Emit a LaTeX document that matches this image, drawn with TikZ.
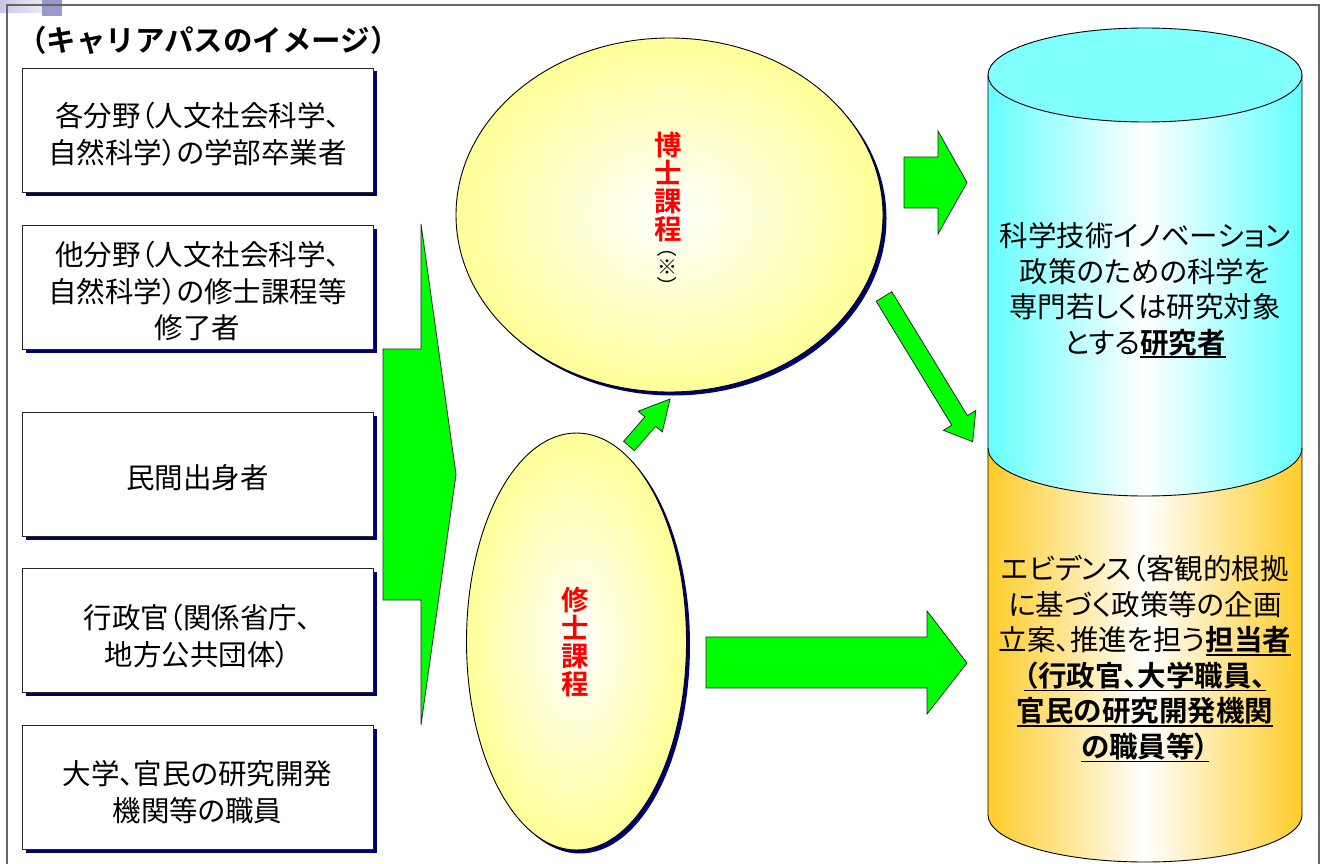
\documentclass[tikz,border=0pt]{standalone}
\usepackage{fontspec}
\setmainfont{Noto Sans CJK JP}[RawFeature=+palt,BoldFont={Noto Sans CJK JP Bold}]
\newfontfamily\titlefont{Noto Sans CJK JP Bold}
\usetikzlibrary{shapes.geometric,shadows}
\definecolor{navyC}{RGB}{0,0,110}
\definecolor{ylwC}{RGB}{255,255,153}
\definecolor{cyanC}{RGB}{102,255,255}
\definecolor{capC}{RGB}{128,255,255}
\definecolor{orgC}{RGB}{255,204,41}
\definecolor{grnC}{RGB}{0,255,0}
\definecolor{lavC}{RGB}{153,153,204}
\definecolor{lavL}{RGB}{200,200,230}
\newcommand\ulb[1]{\setbox0\hbox{\bfseries #1}\rlap{\rule[-5pt]{\wd0}{1.8pt}}\box0}
\begin{document}
\begin{tikzpicture}[x=1pt,y=-1pt,
  box/.style={draw=black!85, line width=0.9pt, fill=white, minimum width=351pt, minimum height=124pt,
    inner sep=0pt,
    drop shadow={shadow xshift=3.5pt,shadow yshift=-3.5pt,fill=navyC,opacity=1}},
  boxtxt/.style={align=center, inner sep=0pt, font=\fontsize{28.5}{36.5}\selectfont},
  oval/.style={ellipse, draw=black, line width=0.9pt, inner sep=0pt, shading=radial, inner color=white, outer color=ylwC,
    drop shadow={shadow xshift=3.5pt,shadow yshift=-3.5pt,fill=navyC,opacity=1}},
  redlbl/.style={text=red, align=center, inner sep=0pt, font=\bfseries\fontsize{27.5}{28}\selectfont},
  small/.style={inner sep=0pt, font=\fontsize{20}{20}\selectfont},
  cyltxt/.style={align=center, inner sep=0pt, font=\fontsize{28.5}{35.5}\selectfont},
  blockarrow/.style={fill=grnC, draw=black!85, line width=0.8pt, line join=miter},
  frame/.style={draw=black!60, line width=1.3pt}
]
\useasboundingbox (0,0) rectangle (1322,864);
% corner decoration
\shade[left color=lavL, right color=lavL!40!white] (0,0) rectangle (42,13);
\fill[lavC] (42,0) rectangle (62,16);
% frame
\draw[frame] (7,864) -- (7,5) -- (1319,5) -- (1319,864);
% title
\node[anchor=west, inner sep=0pt, font=\titlefont\fontsize{29.5}{30}\selectfont] (title) at (17,40) {（キャリアパスのイメージ）};
% left boxes
\node[box] (b1) at (197.5,130) {};
\node[box] (b2) at (197.5,287) {};
\node[box] (b3) at (197.5,474.5) {};
\node[box] (b4) at (197.5,630.5) {};
\node[box] (b5) at (197.5,787.5) {};
\node[boxtxt] (t1) at (197.5,134) {各分野（人文社会科学、\\自然科学）の学部卒業者};
\node[boxtxt] (t2) at (197.5,291) {他分野（人文社会科学、\\自然科学）の修士課程等\\修了者};
\node[boxtxt] (t3) at (197.5,478) {民間出身者};
\node[boxtxt] (t4) at (197.5,636) {行政官（関係省庁、\\地方公共団体）};
\node[boxtxt] (t5) at (197.5,792) {大学、官民の研究開発\\機関等の職員};
% big collecting arrow
\draw[blockarrow] (383,349) -- (421,349) -- (421,224) -- (456,474.5) -- (421,725) -- (421,600) -- (383,600) -- cycle;
% ellipses
\node[oval, minimum width=427pt, minimum height=354pt] (doc) at (669.5,215) {};
\node[oval, minimum width=220pt, minimum height=417pt] (mas) at (576.5,641.5) {};
\node[redlbl] (doclbl) at (668,186.5) {博\\士\\課\\程};
\node[small, rotate=-90] (kp1) at (667,252) {（};
\node[small] (kome) at (667,267) {※};
\node[small, rotate=-90] (kp2) at (667,282.5) {）};
\node[redlbl] (maslbl) at (575,642.5) {修\\士\\課\\程};
% small arrow master -> doctor
\draw[blockarrow] (623.6,441.3) -- (644.9,416.9) -- (638.3,411.2) -- (670,399) -- (662.3,432.0) -- (655.7,426.3) -- (634.4,450.7) -- cycle;
% doctor -> cylinder top
\draw[blockarrow] (904,157) -- (938,157) -- (938,131) -- (967,182.5) -- (938,234) -- (938,208) -- (904,208) -- cycle;
% doctor -> cylinder (diagonal)
\draw[blockarrow] (876.2,301.3) -- (951.8,425.2) -- (943.4,430.3) -- (972.7,441.7) -- (975.8,410.5) -- (967.4,415.6) -- (891.8,291.7) -- cycle;
% master -> cylinder bottom
\draw[blockarrow] (706,637) -- (927,637) -- (927,611) -- (967,663) -- (927,714) -- (927,688) -- (706,688) -- cycle;
% cylinder: orange part
\path[left color=orgC, right color=orgC, middle color=white]
  (988,448) -- (988,815) arc[start angle=180, end angle=0, x radius=157, y radius=47] -- (1302,448) -- cycle;
\draw[line width=0.9pt] (988,448) -- (988,815) arc[start angle=180, end angle=0, x radius=157, y radius=47] -- (1302,448);
% cylinder: cyan part
\path[left color=cyanC, right color=cyanC, middle color=white]
  (988,75) -- (988,448) arc[start angle=180, end angle=0, x radius=157, y radius=48] -- (1302,75) -- cycle;
\draw[line width=0.9pt] (988,75) -- (988,448) arc[start angle=180, end angle=0, x radius=157, y radius=48] -- (1302,75);
\draw[line width=0.9pt, fill=capC] (1145,75) ellipse[x radius=157, y radius=47];
% cylinder texts
\node[cyltxt] (res) at (1145,290.5) {科学技術イノベーション\\政策のための科学を\\専門若しくは研究対象\\とする\ulb{研究者}};
\node[cyltxt] (adm) at (1145,659) {エビデンス（客観的根拠\\に基づく政策等の企画\\立案、推進を担う\ulb{担当者}\\\ulb{（行政官、大学職員、}\\\ulb{官民の研究開発機関}\\\ulb{の職員等）}};
\end{tikzpicture}
\end{document}
